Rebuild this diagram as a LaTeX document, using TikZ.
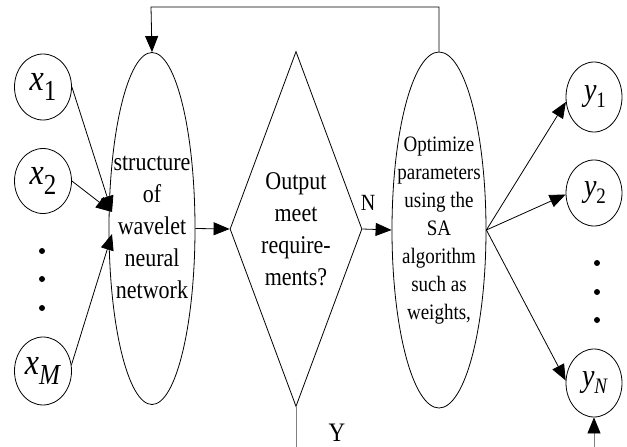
\documentclass[tikz,border=0pt]{standalone}
\usepackage{fontspec}
\setmainfont{Liberation Serif}
\usetikzlibrary{shapes.geometric,arrows.meta}
\newcommand{\vsc}[1]{\scalebox{1}[1.16]{#1}}
\newcommand{\xsym}[2]{\vsc{\fontsize{32}{32}\selectfont\textit{x}\raisebox{-9pt}{\fontsize{25}{25}\selectfont #2}}}
\newcommand{\ysym}[2]{\vsc{\fontsize{28}{28}\selectfont\textit{y}\raisebox{-6pt}{\fontsize{19}{19}\selectfont #2}}}
\begin{document}
\begin{tikzpicture}[x=1pt,y=-1pt,
  line width=0.8pt,
  arr/.style={-{Triangle[length=16pt,width=13pt]}},
  garr/.style={draw=gray,-{Triangle[length=16pt,width=13pt,color=black]}},
  io/.style={draw,ellipse,inner sep=0pt,minimum width=57pt},
  big/.style={draw,ellipse,inner sep=0pt},
  dot/.style={fill,circle,inner sep=0pt,minimum size=6pt},
  lbl/.style={inner sep=0pt}]
\path[use as bounding box] (0,0) rectangle (627,447);
% input nodes
\node[io,minimum height=66pt] (x1) at (43,87) {};
\node[lbl] at (x1) {\xsym{x}{1}};
\node[io,minimum height=65pt] (x2) at (43,181) {};
\node[lbl] at (x2) {\xsym{x}{2}};
\node[io,minimum height=68pt] (xM) at (43,371) {};
\node[lbl] at (xM) {\xsym{x}{\textit{M}}};
\node[dot] (ld1) at (42,251) {};
\node[dot] (ld2) at (42,279) {};
\node[dot] (ld3) at (42,308) {};
% main ellipse 1
\node[big,minimum width=86pt,minimum height=352pt] (e1) at (152,228.5) {};
\node[lbl] (t1) at (e1) {\vsc{\fontsize{22}{27.6}\selectfont\begin{tabular}{@{}c@{}}structure\\of\\wavelet\\neural\\network\end{tabular}}};
% diamond
\node[draw,diamond,inner sep=0pt,minimum width=132pt,minimum height=355pt] (dm) at (296,229) {};
\node[lbl] (t2) at (296,231) {\vsc{\fontsize{22}{27.6}\selectfont\begin{tabular}{@{}c@{}}Output\\meet\\require-\\ments?\end{tabular}}};
% ellipse 2
\node[big,minimum width=94pt,minimum height=356pt] (e2) at (439,230) {};
\node[lbl] (t3) at (e2) {\vsc{\fontsize{19}{24.1}\selectfont\begin{tabular}{@{}c@{}}Optimize\\parameters\\using the\\SA\\algorithm\\such as\\weights,\end{tabular}}};
% outputs
\node[io,minimum width=56pt,minimum height=70pt] (y1) at (594,97) {};
\node[lbl] at (595,97) {\ysym{y}{1}};
\node[io,minimum width=56pt,minimum height=66pt] (y2) at (594,193) {};
\node[lbl] at (595,193) {\ysym{y}{2}};
\node[io,minimum width=56pt,minimum height=68pt] (yN) at (594,383) {};
\node[lbl] at (595,383) {\ysym{y}{\textit{N}}};
\node[dot] (rd1) at (597,263) {};
\node[dot] (rd2) at (597,292) {};
\node[dot] (rd3) at (597,320) {};
% input arrows
\coordinate (in1) at (112,212);
\coordinate (in2) at (112,234);
\draw[arr] (x1.east) -- (in1);
\draw[arr] (x2.east) -- (in1);
\draw[arr] (xM.12) -- (in2);
% flow
\draw[arr] (e1.east) -- (dm.west);
\draw[arr] (dm.east) -- (e2.west);
\node[lbl] (N) at (368,203) {\vsc{\fontsize{20}{20}\selectfont N}};
\coordinate (tr) at (439,7);
\coordinate (tl) at (151,7);
\draw[arr] (e2.north) -- (tr) -- (tl) -- (e1.north);
\coordinate (bot) at (296,447);
\draw[gray] (dm.south) -- (bot);
\node[lbl] (Y) at (337,433) {\vsc{\fontsize{23}{23}\selectfont Y}};
% outputs arrows
\draw[arr] (e2.east) -- (y1.190);
\draw[arr] (e2.east) -- (y2.183);
\draw[arr] (e2.east) -- (yN.175);
\coordinate (botr) at (594,447);
\draw[garr] (botr) -- (yN.south);
\end{tikzpicture}
\end{document}
